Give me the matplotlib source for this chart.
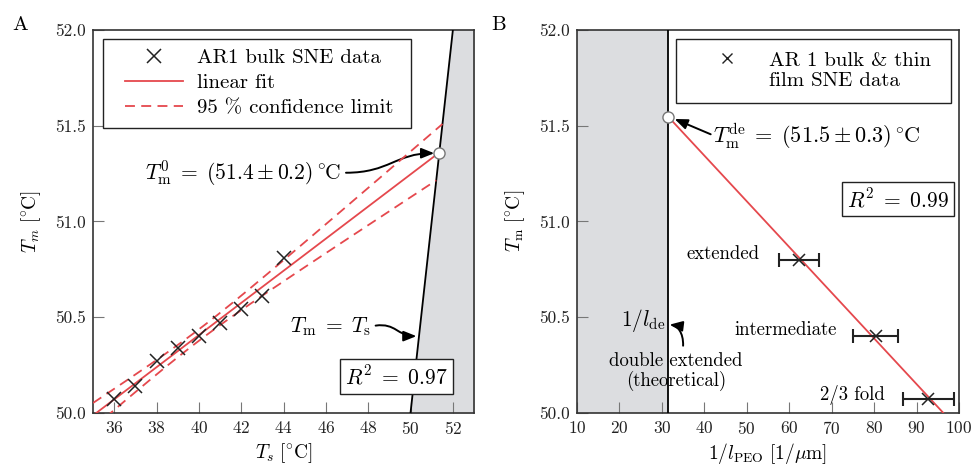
import numpy as np
import matplotlib
matplotlib.use("Agg")
import matplotlib.pyplot as plt
from matplotlib.patches import FancyArrowPatch, Rectangle
from matplotlib.path import Path
from matplotlib.ticker import FormatStrFormatter, MultipleLocator

plt.rcParams["font.family"] = "serif"
plt.rcParams["font.serif"] = ["cmr10", "DejaVu Serif"]
plt.rcParams["mathtext.fontset"] = "cm"
plt.rcParams["axes.formatter.use_mathtext"] = True

# ---- panel A: bulk SNE data ----
ts_a = [36, 37, 38, 39, 40, 41, 42, 43, 44]
tm_a = [50.07, 50.14, 50.27, 50.34, 50.40, 50.47, 50.54, 50.61, 50.81]
t_975 = 2.365          # Student t quantile, 7 degrees of freedom
r2_a = 0.97

# ---- panel B: bulk & thin film SNE data ----
inv_l = [62.4, 80.4, 92.8]
inv_l_err = [4.7, 5.3, 6.1]
tm_b = [50.80, 50.40, 50.07]
fold_labels = ["extended", "intermediate", "2/3 fold"]
inv_l_de = 31.5
r2_b = 0.99

RED = "#e5484d"
SHADE = "#dcdde0"
SPINE = "#333333"
DEGC = r"{}^{\circ}\!\!\;\mathrm{C}"
DEG = "[" + DEGC + "]"

fig = plt.figure(figsize=(9.73, 4.68), dpi=100)
axA = fig.add_axes([0.0956, 0.1182, 0.3916, 0.8177])
axB = fig.add_axes([0.5930, 0.1182, 0.3926, 0.8177])

for ax in (axA, axB):
    ax.set_ylim(50.0, 52.0)
    ax.yaxis.set_major_locator(MultipleLocator(0.5))
    ax.yaxis.set_major_formatter(FormatStrFormatter("%.1f"))
    ax.tick_params(direction="in", length=8, width=0.8, color="#777777",
                   labelsize=12.5, labelcolor="#222222", pad=5,
                   top=False, right=False)
    for sp in ax.spines.values():
        sp.set_color(SPINE)
        sp.set_linewidth(1.2)


def bezier_arrow(ax, pts):
    path = Path(pts, [Path.MOVETO, Path.CURVE4, Path.CURVE4, Path.CURVE4])
    arr = FancyArrowPatch(path=path, arrowstyle="-|>,head_length=0.55,head_width=0.22",
                          mutation_scale=14, color="black", lw=1.4,
                          transform=ax.transData)
    ax.add_patch(arr)


def clip_at_boundary(x, y):
    # keep the part of a curve left of the Tm = Ts line, ending on it
    d = y - x
    idx = np.where(d < 0)[0]
    if len(idx) == 0:
        return x, y
    i = idx[0]
    f = d[i - 1] / (d[i - 1] - d[i])
    xe = x[i - 1] + f * (x[i] - x[i - 1])
    return np.append(x[:i], xe), np.append(y[:i], xe)


# ---------------- panel A ----------------
axA.set_xlim(35, 53)
axA.set_xticks(np.arange(36, 53, 2))

# Tm = Ts boundary and shaded region
yy = np.array([50.0, 52.0])
axA.fill_betweenx(yy, yy, 53, color=SHADE, zorder=1)
axA.plot(yy, yy, color="black", lw=1.3, zorder=3)

# linear fit and its 95 % confidence band
xa = np.asarray(ts_a, float)
ya = np.asarray(tm_a, float)
slope, icpt = np.polyfit(xa, ya, 1)
resid = ya - (slope * xa + icpt)
s_res = np.sqrt(np.sum(resid ** 2) / (len(xa) - 2))
sxx = np.sum((xa - xa.mean()) ** 2)

xg = np.linspace(35, 53, 3000)
fit = slope * xg + icpt
half = t_975 * s_res * np.sqrt(1 / len(xa) + (xg - xa.mean()) ** 2 / sxx)

xf, yf = clip_at_boundary(xg, fit)
axA.plot(xf, yf, color=RED, lw=1.3, zorder=4, label="linear fit")
for k, sign in enumerate((1, -1)):
    xc, yc = clip_at_boundary(xg, fit + sign * half)
    axA.plot(xc, yc, color=RED, lw=1.3, ls=(0, (5.5, 3.5)), zorder=4,
             label="95 % confidence limit" if k == 0 else None)

axA.plot(ts_a, tm_a, ls="none", marker="x", ms=10, mew=1.1, color="#222222",
         zorder=5, label="AR1 bulk SNE data")

ts_end = xf[-1]
axA.plot([ts_end], [ts_end], marker="o", ms=8, mfc="white", mec="#777777",
         mew=1.0, zorder=6, clip_on=False)

# legend: frame drawn separately so its padding can be set freely
axA.add_patch(Rectangle((0.026, 0.744), 0.809, 0.232, transform=axA.transAxes,
                        fc="white", ec="#222222", lw=1.0, zorder=8))
h, l = axA.get_legend_handles_labels()
order = [2, 0, 1]
leg = axA.legend([h[i] for i in order], [l[i] for i in order],
                 loc="center left", bbox_to_anchor=(0.084, 0.8615), borderaxespad=0,
                 fontsize=15, frameon=False, borderpad=0,
                 handlelength=2.8, handletextpad=0.67, labelspacing=0.3)
leg.set_zorder(9)

axA.text(46.75, 51.25, r"$T_\mathrm{m}^0 \;=\; (51.4 \pm 0.2)\," + DEGC + "$",
         fontsize=15.5, ha="right", va="center", zorder=6)
bezier_arrow(axA, [(46.95, 51.254), (49.0, 51.254), (49.3, 51.356), (51.12, 51.356)])

axA.text(44.3, 50.45, r"$T_\mathrm{m} \;=\; T_\mathrm{s}$", fontsize=15.5,
         ha="left", va="center", zorder=6)
bezier_arrow(axA, [(48.35, 50.455), (49.3, 50.47), (49.4, 50.40), (50.28, 50.40)])

axA.text(0.797, 0.095, r"$R^2 \;=\; %.2f$" % r2_a, transform=axA.transAxes,
         fontsize=15.5, ha="center", va="center", zorder=7,
         bbox=dict(boxstyle="square,pad=0.25", fc="white", ec="#222222", lw=1.0))

axA.set_xlabel(r"$T_s\ " + DEG + "$", fontsize=14, labelpad=3)
axA.set_ylabel(r"$T_m\ " + DEG + "$", fontsize=14, labelpad=9)

# ---------------- panel B ----------------
axB.set_xlim(10, 100)
axB.set_xticks(np.arange(10, 101, 10))
axB.axvspan(10, inv_l_de, color=SHADE, zorder=1, lw=0)
axB.axvline(inv_l_de, color="black", lw=1.3, zorder=3)

slope_b, icpt_b = np.polyfit(inv_l, tm_b, 1)
x_bottom = (50.0 - icpt_b) / slope_b
xb = np.array([inv_l_de, x_bottom])
axB.plot(xb, slope_b * xb + icpt_b, color=RED, lw=1.3, zorder=4)

axB.errorbar(inv_l, tm_b, xerr=inv_l_err, fmt="none", ecolor="#222222",
             elinewidth=1.5, capsize=5, capthick=1.5, zorder=5)
axB.plot(inv_l, tm_b, ls="none", marker="x", ms=9, mew=1.1, color="#222222", zorder=6)

tm_de = slope_b * inv_l_de + icpt_b
axB.plot([inv_l_de], [tm_de], marker="o", ms=8, mfc="white", mec="#777777",
         mew=1.0, zorder=7)

label_pos = [(53.1, 50.83), (71.3, 50.43), (82.6, 50.095)]
for txt, (x, y) in zip(fold_labels, label_pos):
    axB.text(x, y, txt, fontsize=13.5, ha="right", va="center", zorder=6)

axB.text(42.0, 51.445,
         r"$T_\mathrm{m}^\mathrm{de} \;=\; (51.5 \pm 0.3)\," + DEGC + "$",
         fontsize=16, ha="left", va="center", zorder=6)
axB.annotate("", xy=(33.0, 51.535), xytext=(41.5, 51.455),
             arrowprops=dict(arrowstyle="-|>,head_length=0.55,head_width=0.22",
                             mutation_scale=14, color="black", lw=1.4,
                             shrinkA=0, shrinkB=0), zorder=6)

axB.text(30.8, 50.48, r"$1/l_\mathrm{de}$", fontsize=15.5, ha="right", va="center",
         zorder=6)
bezier_arrow(axB, [(35.0, 50.35), (35.1, 50.42), (33.6, 50.455), (31.8, 50.46)])
axB.text(33.3, 50.215, "double extended\n(theoretical)", fontsize=13.5,
         ha="center", va="center", multialignment="center", linespacing=1.05, zorder=6)

# single-entry legend box
axB.add_patch(Rectangle((0.259, 0.809), 0.720, 0.167, transform=axB.transAxes,
                        fc="white", ec="#222222", lw=1.0, zorder=6))
axB.plot([0.392], [0.927], transform=axB.transAxes, marker="x", ms=7, mew=1.0,
         color="#222222", zorder=7)
axB.text(0.503, 0.893, "AR 1 bulk & thin\nfilm SNE data", transform=axB.transAxes,
         fontsize=15, ha="left", va="center", linespacing=1.2, zorder=7)

axB.text(0.840, 0.558, r"$R^2 \;=\; %.2f$" % r2_b, transform=axB.transAxes,
         fontsize=15.5, ha="center", va="center", zorder=7,
         bbox=dict(boxstyle="square,pad=0.25", fc="white", ec="#222222", lw=1.0))

axB.set_xlabel(r"$1/l_\mathrm{PEO}\ [1/\mu\mathrm{m}]$", fontsize=14, labelpad=3)
axB.set_ylabel(r"$T_\mathrm{m}\ " + DEG + "$", fontsize=14, labelpad=9)

fig.text(20 / 973, 1 - 25 / 468, "A", fontsize=15, ha="center", va="center")
fig.text(499 / 973, 1 - 25 / 468, "B", fontsize=15, ha="center", va="center")

fig.savefig("out.png", dpi=100)
